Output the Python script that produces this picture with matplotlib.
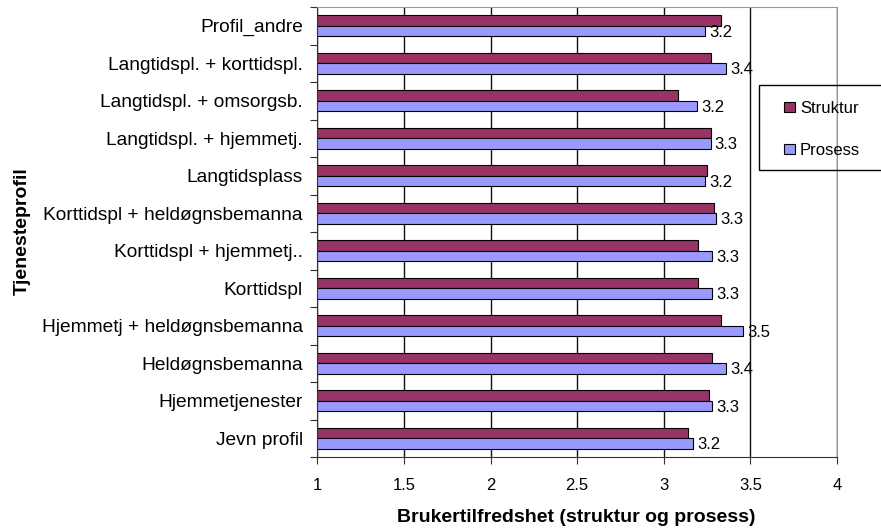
import matplotlib.pyplot as plt
import matplotlib.patches as mpatches
import numpy as np

plt.rcParams['font.family'] = ['Liberation Sans', 'DejaVu Sans']

# top to bottom, as in the chart
profiler = ['Profil_andre', 'Langtidspl. + korttidspl.', 'Langtidspl. + omsorgsb.',
            'Langtidspl. + hjemmetj.', 'Langtidsplass', 'Korttidspl + heldøgnsbemanna',
            'Korttidspl + hjemmetj..', 'Korttidspl', 'Hjemmetj + heldøgnsbemanna',
            'Heldøgnsbemanna', 'Hjemmetjenester', 'Jevn profil']
struktur = [3.33, 3.27, 3.08, 3.27, 3.25, 3.29, 3.20, 3.20, 3.33, 3.28, 3.26, 3.14]
prosess = [3.24, 3.36, 3.19, 3.27, 3.24, 3.30, 3.28, 3.28, 3.46, 3.36, 3.28, 3.17]
xticks = [1, 1.5, 2, 2.5, 3, 3.5, 4]

W, H = 881, 529
fig = plt.figure(figsize=(W / 100, H / 100), dpi=100)
ax = fig.add_axes([317.3 / W, 1 - 457 / H, (837 - 317.3) / W, (457 - 7) / H])

n = len(profiler)
y = n - 1 - np.arange(n)
h = 0.275
b1 = ax.barh(y + h / 2, struktur, height=h, color='#993366', edgecolor='black', lw=0.8, label='Struktur')
b2 = ax.barh(y - h / 2, prosess, height=h, color='#9999FF', edgecolor='black', lw=0.8, label='Prosess')

for yy, v in zip(y, prosess):
    ax.annotate(f'{v:.1f}', (v, yy - h / 2), xytext=(3, -1), textcoords='offset points',
                va='center', ha='left', fontsize=12)

ax.set_xlim(1, 4)
ax.set_ylim(-0.5, n - 0.5)
ax.set_xticks(xticks)
ax.set_xticklabels([f'{t:g}' for t in xticks], fontsize=12)
ax.tick_params(axis='x', length=5, pad=10, color='#333333')

ax.set_yticks(np.arange(-0.5, n, 1.0))
ax.set_yticklabels([])
ax.set_yticks(y, minor=True)
ax.set_yticklabels(profiler, minor=True, fontsize=13.8)
ax.tick_params(axis='y', which='major', length=5, color='#333333')
ax.tick_params(axis='y', which='minor', length=0, pad=10.3)

ax.set_axisbelow(True)
ax.grid(axis='x', color='#111111', lw=1)
for s in ['left', 'bottom']:
    ax.spines[s].set_color('#333333')
for s in ['top', 'right']:
    ax.spines[s].set_color('#999999')

fig.text(576.5 / W, 1 - 522 / H, 'Brukertilfredshet (struktur og prosess)', ha='center',
         va='baseline', fontsize=14, fontweight='bold')
fig.text(22 / W, 1 - 231.5 / H, 'Tjenesteprofil', ha='center', va='center', rotation=90,
         fontsize=14, fontweight='bold')

leg = fig.legend(handles=[b1, b2], loc='upper left', bbox_to_anchor=(784 / W, 1 - 101 / H),
                 frameon=False, fontsize=12, handlelength=0.66, handleheight=0.6,
                 handletextpad=0.3, labelspacing=1.6, borderpad=0, borderaxespad=0)
fig.patches.append(mpatches.Rectangle((759 / W, 1 - 170 / H), 140 / W, 85 / H,
                                      transform=fig.transFigure, fill=False,
                                      edgecolor='black', lw=1))

fig.savefig('out.png', dpi=100)
